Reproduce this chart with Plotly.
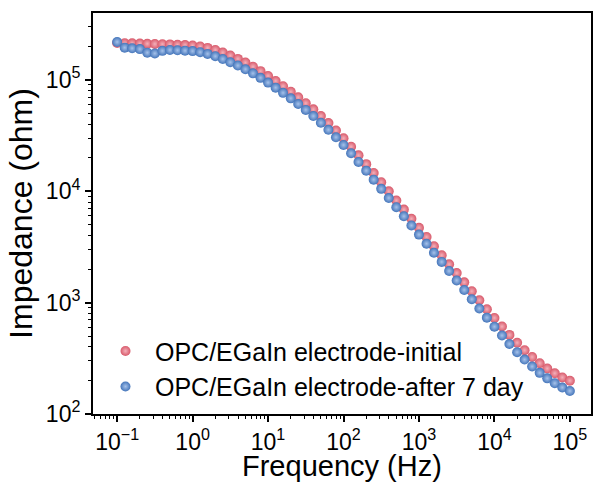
import plotly.graph_objects as go

freq_hz = [0.1, 0.126, 0.158, 0.2, 0.251, 0.316, 0.398, 0.501, 0.631, 0.794,
           1.0, 1.26, 1.58, 2.0, 2.51, 3.16, 3.98, 5.01, 6.31, 7.94,
           10.0, 12.6, 15.8, 20.0, 25.1, 31.6, 39.8, 50.1, 63.1, 79.4,
           100, 126, 158, 200, 251, 316, 398, 501, 631, 794,
           1000, 1260, 1580, 2000, 2510, 3160, 3980, 5010, 6310, 7940,
           10000, 12600, 15800, 20000, 25100, 31600, 39800, 50100, 63100, 79400,
           100000]

z_initial = [213800, 213300, 212800, 211800, 210900, 209900, 208900, 208000, 206500, 205100,
             203200, 199500, 193600, 185400, 175800, 165200, 154200, 142900, 131200, 119700,
             108400, 97700, 87700, 78300, 69700, 61700, 54300, 47300, 40900, 35100,
             29900, 25100, 21000, 17500, 14600, 12050, 9980, 8260, 6840, 5660,
             4690, 3880, 3210, 2660, 2210, 1840, 1520, 1265, 1050, 873,
             728, 610, 513, 436, 374, 325, 286, 256, 232, 213,
             199]

z_after7 = [218800, 194500, 191900, 188800, 175400, 172600, 182000, 185400, 184100, 182800,
            181100, 177000, 171000, 162900, 153800, 143900, 134300, 124500, 114300, 104200,
            94400, 85100, 76400, 68200, 60700, 53700, 47300, 41200, 35600, 30500,
            26000, 21900, 18300, 15300, 12700, 10500, 8690, 7190, 5960, 4930,
            4080, 3380, 2800, 2320, 1920, 1580, 1297, 1072, 885, 733,
            608, 507, 425, 359, 308, 267, 234, 209, 189, 173,
            161]

series_names = ["OPC/EGaIn electrode-initial", "OPC/EGaIn electrode-after 7 day"]
x_title = "Frequency (Hz)"
y_title = "Impedance (ohm)"

x_tick_vals = [0.1, 1, 10, 100, 1000, 10000, 100000]
x_tick_text = ["10<sup>\u22121</sup>", "10<sup>0</sup>", "10<sup>1</sup>", "10<sup>2</sup>",
               "10<sup>3</sup>", "10<sup>4</sup>", "10<sup>5</sup>"]
y_tick_vals = [100, 1000, 10000, 100000]
y_tick_text = ["10<sup>2</sup>", "10<sup>3</sup>", "10<sup>4</sup>", "10<sup>5</sup>"]

FONT = "Arial, Liberation Sans, sans-serif"

fig = go.Figure()
fig.add_trace(go.Scatter(
    x=freq_hz, y=z_initial, mode="markers", name=series_names[0],
    marker=dict(size=10, color="#D85A6B",
                gradient=dict(type="radial", color="#F4B0BA"))))
fig.add_trace(go.Scatter(
    x=freq_hz, y=z_after7, mode="markers", name=series_names[1],
    marker=dict(size=10, color="#4475BA",
                gradient=dict(type="radial", color="#A6C2EA"))))

axis_common = dict(
    type="log", showgrid=False, zeroline=False, showline=True,
    linecolor="black", linewidth=2, mirror=True, automargin=False,
    ticks="outside", ticklen=6, tickwidth=1.5, tickcolor="black",
    tickfont=dict(family=FONT, size=23, color="black"),
    minor=dict(ticks="outside", ticklen=3, tickwidth=1, tickcolor="black",
               dtick="D1", showgrid=False),
)

fig.update_layout(
    width=593, height=484,
    margin=dict(l=93, r=2, t=13, b=70),
    paper_bgcolor="white", plot_bgcolor="white",
    font=dict(family=FONT, color="black"),
    xaxis=dict(axis_common, range=[-1.32, 5.28],
               tickmode="array", tickvals=x_tick_vals, ticktext=x_tick_text),
    yaxis=dict(axis_common, range=[2, 5.6],
               tickmode="array", tickvals=y_tick_vals, ticktext=y_tick_text,
               title=dict(text=y_title, font=dict(family=FONT, size=32), standoff=4)),
    legend=dict(x=0.006, y=0.012, xanchor="left", yanchor="bottom",
                bgcolor="rgba(0,0,0,0)", itemwidth=49,
                font=dict(family=FONT, size=25, color="black"),
                tracegroupgap=0),
    showlegend=True,
    annotations=[dict(text=x_title, xref="paper", yref="paper",
                      x=0.5, y=-0.1746, xanchor="center", yanchor="bottom",
                      showarrow=False, font=dict(family=FONT, size=29, color="black"))],
)

fig.write_html("out.html", config={"displayModeBar": False},
               post_script="document.body.style.margin='0';document.body.style.overflow='hidden';")
